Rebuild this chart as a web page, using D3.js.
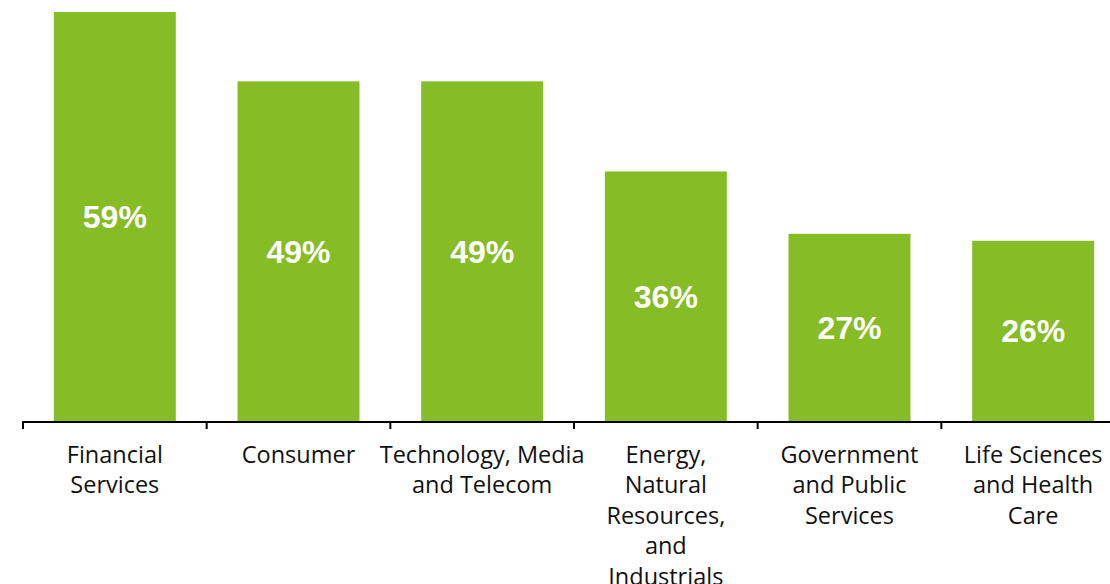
<!DOCTYPE html>
<html>
<head>
<meta charset="utf-8">
<script src="https://cdn.jsdelivr.net/npm/d3@7"></script>
<style>
  html, body { margin: 0; padding: 0; background: #ffffff; }
  svg { display: block; }
</style>
</head>
<body>
<svg id="chart" width="1110" height="584"></svg>
<script>
const categories = [
  "Financial Services",
  "Consumer",
  "Technology, Media and Telecom",
  "Energy, Natural Resources, and Industrials",
  "Government and Public Services",
  "Life Sciences and Health Care"
];
const categoryLines = [
  ["Financial", "Services"],
  ["Consumer"],
  ["Technology, Media", "and Telecom"],
  ["Energy,", "Natural", "Resources,", "and", "Industrials"],
  ["Government", "and Public", "Services"],
  ["Life Sciences", "and Health", "Care"]
];
const values = [59, 49, 49, 36, 27, 26];
const valueLabels = ["59%", "49%", "49%", "36%", "27%", "26%"];

const svg = d3.select("#chart");
const baseY = 421;
const pxPerUnit = 6.932;

const x = d3.scaleBand()
  .domain(categories)
  .range([23, 1125])
  .paddingInner(0.336)
  .paddingOuter(0.168);

const y = d3.scaleLinear()
  .domain([0, 60])
  .range([baseY, baseY - 60 * pxPerUnit]);

const step = x.step();
const green = "#86bc25";

// bars
svg.append("g").selectAll("rect")
  .data(categories)
  .join("rect")
  .attr("x", d => x(d))
  .attr("width", x.bandwidth())
  .attr("y", (d, i) => y(values[i]))
  .attr("height", (d, i) => baseY - y(values[i]))
  .attr("fill", green);

// value labels
svg.append("g").selectAll("text")
  .data(categories)
  .join("text")
  .attr("x", d => x(d) + x.bandwidth() / 2)
  .attr("y", (d, i) => (y(values[i]) + baseY) / 2)
  .attr("dy", "0.36em")
  .attr("text-anchor", "middle")
  .attr("font-family", "'Liberation Sans', Arial, sans-serif")
  .attr("font-weight", "bold")
  .attr("font-size", 32)
  .attr("fill", "#ffffff")
  .text((d, i) => valueLabels[i]);

// axis line
const axisG = svg.append("g");
axisG.append("line")
  .attr("x1", 22).attr("x2", 1110)
  .attr("y1", baseY + 1).attr("y2", baseY + 1)
  .attr("stroke", "#000").attr("stroke-width", 2);

// tick marks at band boundaries
const tickIdx = d3.range(categories.length + 1);
axisG.selectAll("line.tick")
  .data(tickIdx)
  .join("line")
  .attr("class", "tick")
  .attr("x1", i => x.range()[0] + i * step)
  .attr("x2", i => x.range()[0] + i * step)
  .attr("y1", baseY)
  .attr("y2", baseY + 8)
  .attr("stroke", "#000").attr("stroke-width", 2);

// category labels
const catG = svg.append("g")
  .attr("font-family", "'Open Sans', 'Noto Sans', sans-serif")
  .attr("font-size", 23.5)
  .attr("fill", "#111111")
  .attr("text-anchor", "middle");

categories.forEach((c, i) => {
  const t = catG.append("text")
    .attr("x", x(c) + x.bandwidth() / 2)
    .attr("y", 462.5);
  categoryLines[i].forEach((ln, j) => {
    t.append("tspan")
      .attr("x", x(c) + x.bandwidth() / 2)
      .attr("y", 462.5 + j * 30.5)
      .text(ln);
  });
});
</script>
</body>
</html>
